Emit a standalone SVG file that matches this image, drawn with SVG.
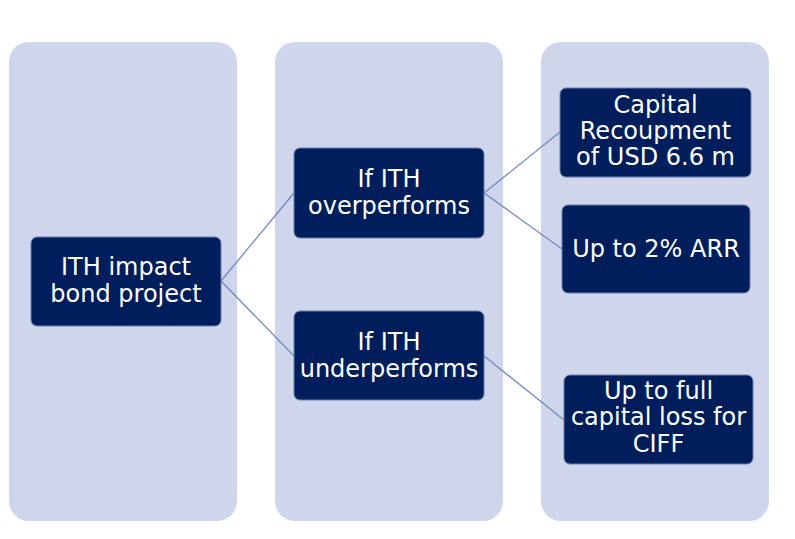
<svg xmlns="http://www.w3.org/2000/svg" width="795" height="539" viewBox="0 0 795 539">
  <style>
    .col { fill: #cfd5ea; }
    .node rect { fill: #001e5c; stroke: #6b7fb0; stroke-width: 1; }
    .node text { fill: #ffffff; font-family: "DejaVu Sans", Verdana, sans-serif; font-size: 24px; text-anchor: middle; }
    .link { stroke: #6f89c2; stroke-width: 1.3; fill: none; }
  </style>
  <rect width="795" height="539" fill="#ffffff"/>

  <!-- column panels -->
  <g id="columns">
    <rect class="col" x="9" y="42" width="228" height="479" rx="20"/>
    <rect class="col" x="275" y="42" width="228" height="479" rx="20"/>
    <rect class="col" x="541" y="42" width="228" height="479" rx="20"/>
  </g>

  <!-- connectors -->
  <g id="connectors">
    <path class="link" d="M221,281 L294,193"/>
    <path class="link" d="M221,281 L294,356"/>
    <path class="link" d="M484,193 L560,132"/>
    <path class="link" d="M484,193 L562,249"/>
    <path class="link" d="M484,356 L564,420"/>
  </g>

  <g id="root" class="node">
    <rect x="31" y="237" width="190" height="89" rx="6"/>
    <text x="126" y="275">ITH impact</text>
    <text x="126" y="302">bond project</text>
  </g>

  <g id="over" class="node">
    <rect x="294" y="148" width="190" height="90" rx="6"/>
    <text x="389" y="187">If ITH</text>
    <text x="389" y="214">overperforms</text>
  </g>

  <g id="under" class="node">
    <rect x="294" y="311" width="190" height="89" rx="6"/>
    <text x="389" y="350">If ITH</text>
    <text x="389" y="377">underperforms</text>
  </g>

  <g id="recoup" class="node">
    <rect x="560" y="88" width="191" height="89" rx="6"/>
    <text x="655.5" y="113">Capital</text>
    <text x="655.5" y="139">Recoupment</text>
    <text x="655.5" y="165">of USD 6.6 m</text>
  </g>

  <g id="arr" class="node">
    <rect x="562" y="205" width="188" height="88" rx="6"/>
    <text x="656" y="257">Up to 2% ARR</text>
  </g>

  <g id="loss" class="node">
    <rect x="564" y="375" width="189" height="89" rx="6"/>
    <text x="658.5" y="399">Up to full</text>
    <text x="658.5" y="425">capital loss for</text>
    <text x="658.5" y="452">CIFF</text>
  </g>
</svg>
